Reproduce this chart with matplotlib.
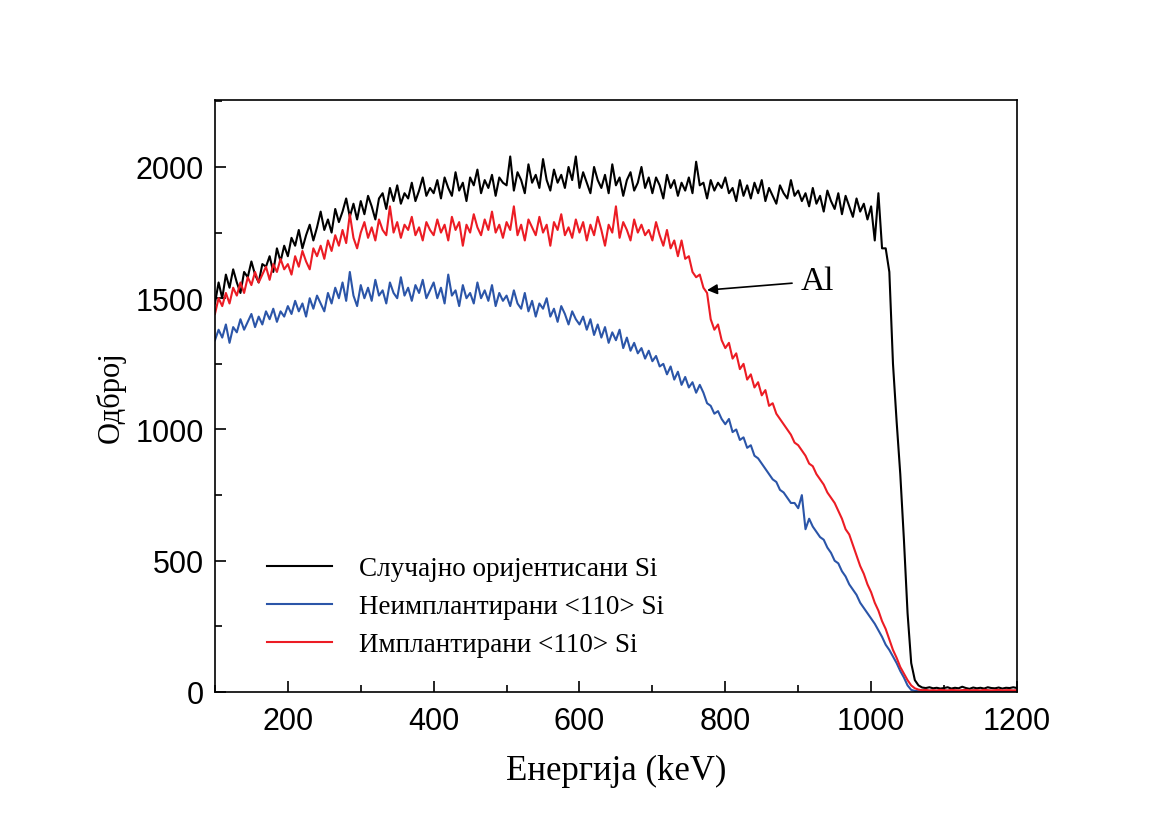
import numpy as np
import matplotlib
matplotlib.use("Agg")
import matplotlib.pyplot as plt
from matplotlib.ticker import MultipleLocator

# energy axis, 5 keV steps from 100 to 1200 keV
energy = np.arange(100, 1201, 5)

# random (non-channeled) Si spectrum
random_si = [
    1480, 1560, 1500, 1590, 1540, 1610, 1560, 1520, 1600, 1580, 1640, 1590, 1560, 1630, 1620, 1660, 1600, 1690, 1640, 1700,
    1660, 1730, 1700, 1760, 1690, 1740, 1780, 1720, 1770, 1830, 1760, 1800, 1750, 1840, 1790, 1830, 1880, 1810, 1860, 1800,
    1870, 1820, 1890, 1850, 1800, 1880, 1900, 1840, 1920, 1870, 1930, 1860, 1900, 1880, 1940, 1870, 1910, 1960, 1890, 1920,
    1900, 1950, 1880, 1960, 1920, 1890, 1980, 1910, 1940, 1870, 1960, 1930, 1990, 1900, 1950, 1920, 1970, 1890, 1960, 1940,
    1930, 2040, 1910, 1980, 1950, 1900, 2010, 1940, 1970, 1920, 2030, 1950, 1910, 1990, 1940, 1970, 1920, 2000, 1950, 2040,
    1920, 1980, 1940, 1900, 2000, 1950, 1920, 1970, 1900, 2010, 1930, 1960, 1890, 1950, 1980, 1910, 1940, 2000, 1920, 1960,
    1900, 1960, 1930, 1880, 1970, 1920, 1950, 1890, 1940, 1910, 1960, 1900, 2020, 1930, 1940, 1880, 1950, 1910, 1940, 1920,
    1960, 1900, 1920, 1870, 1950, 1890, 1930, 1880, 1940, 1900, 1950, 1870, 1920, 1890, 1860, 1930, 1900, 1880, 1950, 1890,
    1910, 1870, 1900, 1850, 1920, 1860, 1890, 1830, 1910, 1870, 1840, 1900, 1820, 1890, 1850, 1810, 1880, 1830, 1860, 1800,
    1850, 1720, 1900, 1690, 1690, 1600, 1250, 1030, 830, 580, 300, 110, 45, 25, 17, 15, 18, 14, 16, 13,
    15, 18, 13, 16, 14, 20, 15, 12, 17, 14, 16, 13, 18, 15, 14, 17, 13, 16, 15, 18,
    15,
]

# unimplanted <110> Si, channeled
unimpl_110 = [
    1340, 1380, 1350, 1400, 1330, 1390, 1370, 1420, 1380, 1410, 1440, 1390, 1430, 1400, 1450, 1420, 1460, 1410, 1450, 1430,
    1470, 1440, 1490, 1450, 1480, 1430, 1500, 1460, 1510, 1480, 1450, 1520, 1480, 1540, 1500, 1560, 1490, 1600, 1510, 1470,
    1550, 1500, 1540, 1490, 1570, 1510, 1530, 1480, 1560, 1520, 1500, 1580, 1510, 1540, 1490, 1550, 1520, 1570, 1500, 1530,
    1560, 1500, 1540, 1480, 1590, 1510, 1530, 1470, 1550, 1500, 1520, 1480, 1560, 1500, 1530, 1490, 1550, 1470, 1520, 1490,
    1510, 1470, 1530, 1480, 1460, 1520, 1450, 1490, 1430, 1480, 1460, 1500, 1430, 1460, 1410, 1470, 1440, 1400, 1450, 1420,
    1400, 1430, 1380, 1420, 1360, 1400, 1350, 1390, 1330, 1370, 1340, 1380, 1310, 1350, 1300, 1330, 1290, 1310, 1270, 1300,
    1260, 1280, 1240, 1250, 1210, 1240, 1190, 1220, 1170, 1200, 1160, 1180, 1140, 1170, 1140, 1100, 1090, 1060, 1070, 1040,
    1020, 1040, 990, 1000, 960, 970, 930, 940, 900, 890, 870, 850, 830, 810, 800, 770, 760, 740, 720, 720,
    700, 750, 620, 660, 630, 610, 590, 580, 550, 530, 500, 490, 460, 440, 410, 390, 370, 340, 320, 300,
    280, 260, 235, 210, 180, 160, 135, 110, 80, 55, 25, 8, 4, 3, 3, 4, 3, 3, 4, 3,
    3, 4, 3, 3, 3, 4, 3, 3, 4, 3, 3, 3, 4, 3, 3, 4, 3, 3, 3, 4,
    3,
]

# implanted <110> Si, channeled
impl_110 = [
    1440, 1500, 1470, 1520, 1480, 1540, 1510, 1560, 1520, 1580, 1550, 1600, 1560, 1590, 1620, 1570, 1630, 1600, 1650, 1610,
    1630, 1590, 1660, 1620, 1680, 1640, 1610, 1690, 1660, 1700, 1650, 1720, 1680, 1740, 1700, 1760, 1710, 1820, 1730, 1690,
    1750, 1790, 1730, 1770, 1720, 1800, 1760, 1740, 1850, 1750, 1790, 1730, 1780, 1760, 1810, 1740, 1770, 1720, 1790, 1760,
    1740, 1800, 1750, 1780, 1720, 1810, 1760, 1790, 1700, 1780, 1750, 1820, 1770, 1740, 1800, 1760, 1830, 1750, 1780, 1730,
    1790, 1760, 1850, 1740, 1780, 1720, 1800, 1770, 1740, 1810, 1750, 1780, 1700, 1790, 1760, 1820, 1740, 1770, 1730, 1800,
    1750, 1790, 1720, 1780, 1740, 1810, 1760, 1700, 1780, 1750, 1850, 1730, 1790, 1760, 1720, 1800, 1750, 1780, 1740, 1760,
    1720, 1790, 1740, 1700, 1760, 1690, 1720, 1660, 1720, 1650, 1660, 1600, 1580, 1590, 1540, 1520, 1420, 1380, 1400, 1340,
    1310, 1330, 1270, 1290, 1230, 1250, 1190, 1210, 1160, 1180, 1130, 1150, 1090, 1100, 1060, 1040, 1020, 1000, 980, 950,
    940, 920, 900, 870, 860, 830, 810, 790, 760, 740, 720, 690, 660, 620, 600, 560, 520, 480, 450, 410,
    380, 340, 310, 270, 240, 200, 160, 130, 95, 70, 45, 25, 14, 9, 7, 8, 6, 7, 6, 8,
    7, 6, 8, 7, 6, 7, 8, 6, 7, 7, 6, 8, 7, 6, 7, 8, 6, 7, 7, 6,
    7,
]

labels = ["Случајно оријентисани Si", "Неимплантирани <110> Si", "Имплантирани <110> Si"]
colors = ["#000000", "#2b55a8", "#ec1c24"]

serif = ["Liberation Serif", "DejaVu Serif"]

fig = plt.figure(figsize=(11.65, 8.2), dpi=100)
ax = fig.add_axes([0.1845, 0.1549, 0.6884, 0.7219])

for ys, lab, c in zip([random_si, unimpl_110, impl_110], labels, colors):
    ax.plot(energy, ys, color=c, lw=1.5, label=lab)

ax.set_xlim(100, 1200)
ax.set_ylim(0, 2255)
ax.xaxis.set_major_locator(MultipleLocator(200))
ax.xaxis.set_minor_locator(MultipleLocator(100))
ax.yaxis.set_major_locator(MultipleLocator(500))
ax.yaxis.set_minor_locator(MultipleLocator(250))
ax.tick_params(which="both", direction="in", width=1.2, labelsize=22,
               top=False, right=False)
ax.tick_params(which="major", length=8)
ax.tick_params(which="minor", length=5)
ax.tick_params(axis="x", which="major", pad=10)
ax.tick_params(axis="y", which="major", pad=8)
for t in ax.get_xticklabels() + ax.get_yticklabels():
    t.set_family("Liberation Sans")
for s in ax.spines.values():
    s.set_linewidth(1.2)

ax.set_xlabel("Енергија (keV)", family=serif, fontsize=25, labelpad=13)
ax.set_ylabel("Одброј", family=serif, fontsize=22, labelpad=7)

ax.annotate("Al", xy=(775, 1531), xytext=(903, 1565), family=serif,
            fontsize=24, ha="left", va="center",
            arrowprops=dict(arrowstyle="-|>", color="k", lw=1.2,
                            shrinkA=4, shrinkB=0, mutation_scale=15))

ax.legend(loc="upper left", bbox_to_anchor=(0.051, 0.248), borderaxespad=0,
          frameon=False, prop={"family": serif, "size": 19.5},
          handlelength=2.4, handletextpad=1.0, labelspacing=0.48)

fig.savefig("out.png", dpi=100)
